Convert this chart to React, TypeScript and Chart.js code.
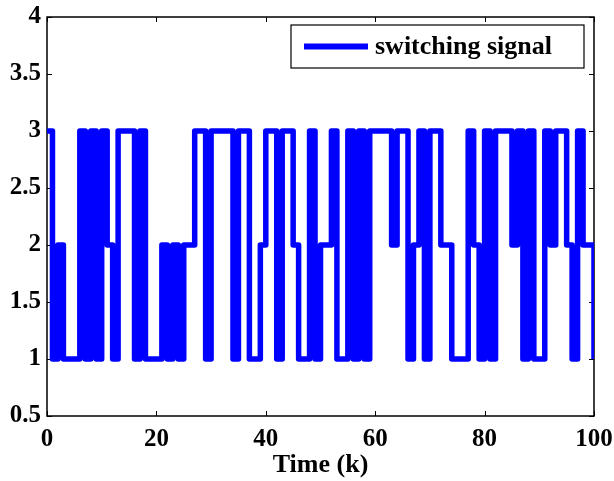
import React, { useEffect, useRef } from "react";
import { Chart, registerables } from "chart.js";

Chart.register(...registerables);

// Time index k (categories on the x axis)
const timeSteps = [
  0, 1, 2, 3, 4, 5, 6, 7, 8, 9,
  10, 11, 12, 13, 14, 15, 16, 17, 18, 19,
  20, 21, 22, 23, 24, 25, 26, 27, 28, 29,
  30, 31, 32, 33, 34, 35, 36, 37, 38, 39,
  40, 41, 42, 43, 44, 45, 46, 47, 48, 49,
  50, 51, 52, 53, 54, 55, 56, 57, 58, 59,
  60, 61, 62, 63, 64, 65, 66, 67, 68, 69,
  70, 71, 72, 73, 74, 75, 76, 77, 78, 79,
  80, 81, 82, 83, 84, 85, 86, 87, 88, 89,
  90, 91, 92, 93, 94, 95, 96, 97, 98, 99,
  100,
];

// Switching signal value held from k to k+1
const switchingSignal = [
  3, 1, 2, 1, 1, 1, 3, 1, 3, 1,
  3, 2, 1, 3, 3, 3, 1, 3, 1, 1,
  1, 2, 1, 2, 1, 2, 2, 3, 3, 1,
  3, 3, 3, 3, 1, 3, 3, 1, 1, 2,
  3, 3, 1, 3, 3, 2, 1, 1, 3, 1,
  2, 2, 3, 1, 1, 3, 1, 3, 1, 3,
  3, 3, 3, 2, 3, 3, 1, 2, 3, 1,
  3, 3, 2, 2, 1, 1, 1, 3, 2, 1,
  3, 1, 3, 3, 3, 2, 3, 1, 3, 1,
  1, 3, 2, 3, 3, 2, 1, 3, 2, 2,
  1,
];

const xTickValues = [0, 20, 40, 60, 80, 100];
const xTickLabels = ["0", "20", "40", "60", "80", "100"];
const yTickValues = [0.5, 1, 1.5, 2, 2.5, 3, 3.5, 4];
const yTickLabels = ["0.5", "1", "1.5", "2", "2.5", "3", "3.5", "4"];

const seriesLabel = "switching signal";
const xTitle = "Time (k)";

const FONT = "'Liberation Serif', 'Times New Roman', serif";
const BLUE = "#0000ff";

const framePlugin = {
  id: "matlabFrame",
  beforeDatasetsDraw(chart: any) {
    const { ctx, chartArea, scales } = chart;
    const { left, right, top, bottom } = chartArea;
    const xs = scales.x;
    const ys = scales.y;
    ctx.save();
    ctx.strokeStyle = "#000";
    ctx.lineWidth = 1.5;
    ctx.strokeRect(left, top, right - left, bottom - top);
    ctx.lineWidth = 1;
    const tl = 5;
    ctx.beginPath();
    xs.ticks.forEach((t: any) => {
      const px = Math.round(xs.getPixelForValue(t.value)) + 0.5;
      ctx.moveTo(px, bottom);
      ctx.lineTo(px, bottom - tl);
      ctx.moveTo(px, top);
      ctx.lineTo(px, top + tl);
    });
    ys.ticks.forEach((t: any) => {
      const py = Math.round(ys.getPixelForValue(t.value)) + 0.5;
      ctx.moveTo(left, py);
      ctx.lineTo(left + tl, py);
      ctx.moveTo(right, py);
      ctx.lineTo(right - tl, py);
    });
    ctx.stroke();
    ctx.restore();
  },
  afterDatasetsDraw(chart: any) {
    const { ctx, chartArea } = chart;
    const ds = chart.data.datasets[0];
    const bw = 293;
    const bh = 43;
    const bx = chartArea.right - 10 - bw;
    const by = chartArea.top + 8;
    ctx.save();
    ctx.fillStyle = "#fff";
    ctx.fillRect(bx, by, bw, bh);
    ctx.strokeStyle = "#000";
    ctx.lineWidth = 1.2;
    ctx.strokeRect(bx, by, bw, bh);
    const cy = by + bh / 2;
    ctx.strokeStyle = ds.borderColor;
    ctx.lineWidth = 6;
    ctx.lineCap = "butt";
    ctx.beginPath();
    ctx.moveTo(bx + 13, cy);
    ctx.lineTo(bx + 77, cy);
    ctx.stroke();
    ctx.fillStyle = "#000";
    ctx.font = `bold 26px ${FONT}`;
    ctx.textAlign = "left";
    ctx.textBaseline = "middle";
    ctx.fillText(ds.label, bx + 84, cy + 1);
    ctx.restore();
  },
};

export default function App() {
  const canvasRef = useRef<HTMLCanvasElement | null>(null);

  useEffect(() => {
    const canvas = canvasRef.current;
    if (!canvas) return;
    const data = timeSteps.map((k, i) => ({ x: k, y: switchingSignal[i] }));
    const chart = new Chart(canvas, {
      type: "line",
      data: {
        datasets: [
          {
            label: seriesLabel,
            data,
            borderColor: BLUE,
            backgroundColor: BLUE,
            borderWidth: 5.5,
            stepped: true,
            pointRadius: 0,
            fill: false,
            borderJoinStyle: "round",
            borderCapStyle: "butt",
          },
        ],
      },
      options: {
        animation: false,
        responsive: false,
        devicePixelRatio: 1,
        layout: { padding: { top: 17, right: 20, left: 0, bottom: 0 } },
        plugins: {
          legend: { display: false },
          tooltip: { enabled: false },
        },
        scales: {
          x: {
            type: "linear",
            min: 0,
            max: 100,
            afterBuildTicks: (scale: any) => {
              scale.ticks = xTickValues.map((v) => ({ value: v }));
            },
            afterFit: (scale: any) => {
              scale.height = 65;
              scale.paddingLeft = 0;
              scale.paddingRight = 0;
            },
            grid: { display: false, drawTicks: false },
            border: { display: false },
            ticks: {
              autoSkip: false,
              maxRotation: 0,
              padding: 9,
              color: "#000",
              font: { family: FONT, weight: "bold", size: 25 },
              callback: (v: any) => {
                const i = xTickValues.indexOf(Number(v));
                return i >= 0 ? xTickLabels[i] : "";
              },
            },
            title: {
              display: true,
              text: xTitle,
              color: "#000",
              font: { family: FONT, weight: "bold", size: 26 },
              padding: { top: 0, bottom: 0 },
            },
          },
          y: {
            type: "linear",
            min: 0.5,
            max: 4,
            afterBuildTicks: (scale: any) => {
              scale.ticks = yTickValues.map((v) => ({ value: v }));
            },
            afterFit: (scale: any) => {
              scale.width = 47;
              scale.paddingTop = 0;
              scale.paddingBottom = 0;
            },
            grid: { display: false, drawTicks: false },
            border: { display: false },
            ticks: {
              autoSkip: false,
              padding: 6,
              color: "#000",
              font: { family: FONT, weight: "bold", size: 25 },
              callback: (v: any) => {
                const i = yTickValues.indexOf(Number(v));
                return i >= 0 ? yTickLabels[i] : "";
              },
            },
          },
        },
      },
      plugins: [framePlugin],
    } as any);
    return () => chart.destroy();
  }, []);

  return (
    <div style={{ position: "absolute", left: 0, top: 0, width: 614, height: 481, background: "#fff" }}>
      <canvas ref={canvasRef} width={614} height={481} style={{ display: "block" }} />
    </div>
  );
}
